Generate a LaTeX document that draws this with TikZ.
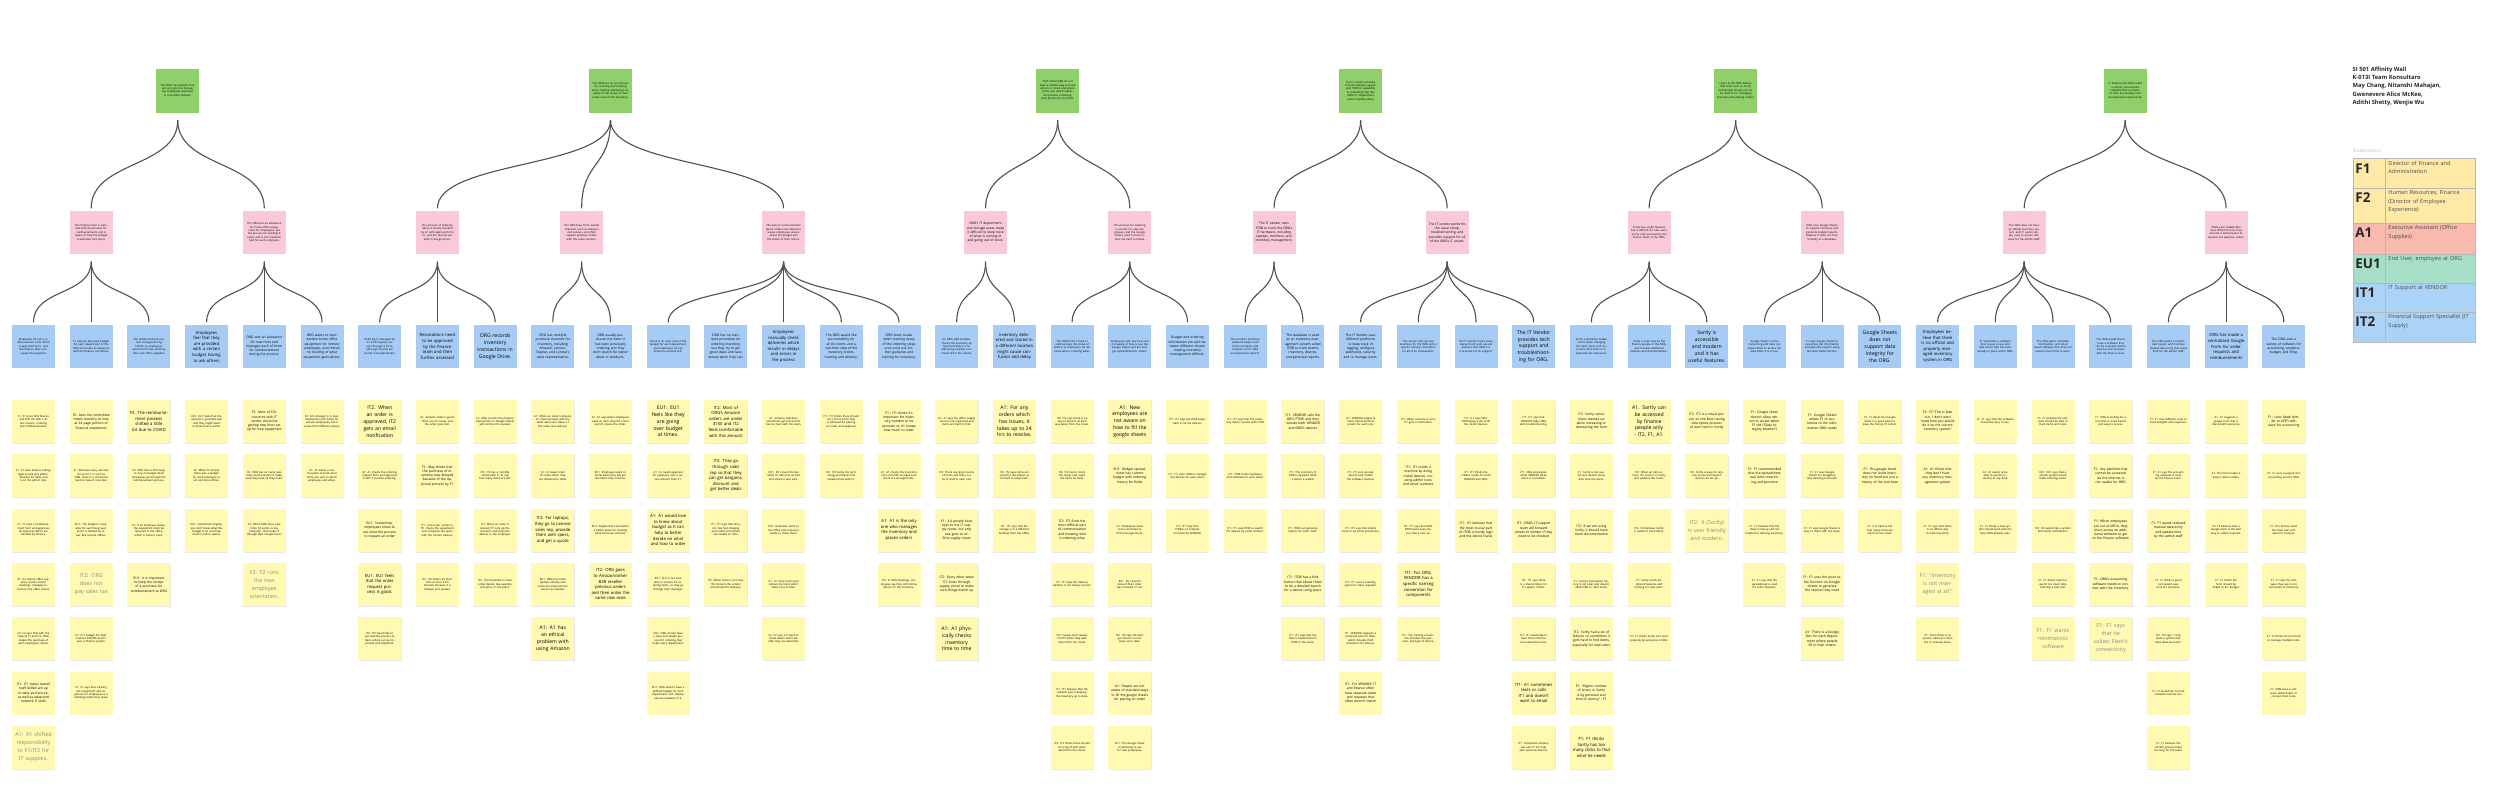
\documentclass[tikz,border=0pt]{standalone}
\usepackage{fontspec}
\setmainfont{Open Sans}
\usetikzlibrary{shadows}
\definecolor{stickyY}{HTML}{FFF9B1}
\definecolor{blueN}{HTML}{A6CCF5}
\definecolor{pinkN}{HTML}{F9C9DA}
\definecolor{greenN}{HTML}{8FD06A}
\definecolor{lineC}{HTML}{505050}
\definecolor{bigGray}{HTML}{8A8A8A}
\definecolor{legY}{HTML}{FFE9A6}
\definecolor{legR}{HTML}{F8B9AE}
\definecolor{legG}{HTML}{A7DEC8}
\definecolor{legB}{HTML}{ABD3F7}
\definecolor{legBorder}{HTML}{B8B8B8}
\newcommand\awNoHy{\hyphenpenalty10000\exhyphenpenalty10000\relax}
\newcommand\awS[4]{\node[sticky,#3] (s#1-#2) at ({33.5+57.7*#1},{421.5+54.3*#2}) {#4};}
\newcommand\awB[3]{\node[bluebox,#2] (b#1) at ({33.5+57.7*#1},346.5) {#3};}
\newcommand\awP[4]{\node[pinkbox,#3] (#1) at ({33.5+57.7*#2},232.5) {#4};}
\newcommand\awG[4]{\node[greenbox,#3] (#1) at ({33.5+57.7*#2},90.5) {#4};}
\newcommand\awGP[2]{\draw[branch] ([yshift=-7.5pt]#1.south) .. controls +(0,48) and +(0,-48) .. ([yshift=2.5pt]#2.north);}
\newcommand\awPB[2]{\draw[branch] ([yshift=-7.5pt]#1.south) .. controls +(0,34) and +(0,-34) .. ([yshift=2.5pt]#2.north);}
\tikzset{
 sticky/.style={rectangle, fill=stickyY, minimum width=43pt, minimum height=43pt, text width=38pt, inner sep=0pt, align=center, drop shadow={shadow xshift=0.3pt, shadow yshift=-0.9pt, opacity=0.18}},
 tinyt/.style={font=\fontsize{2.7}{3.4}\selectfont},
 smt/.style={font=\fontsize{3.3}{4.3}\selectfont},
 medt/.style={font=\fontsize{4.2}{5.6}\selectfont},
 lgt/.style={font=\fontsize{5.1}{6.8}\selectfont},
 bigt/.style={font=\fontsize{5.4}{8}\selectfont, text=bigGray},
 bluebox/.style={rectangle, fill=blueN, minimum width=43pt, minimum height=43pt, text width=38pt, inner sep=0pt, align=center},
 pinkbox/.style={rectangle, fill=pinkN, minimum width=43pt, minimum height=43pt, text width=38pt, inner sep=0pt, align=center},
 greenbox/.style={rectangle, fill=greenN, minimum width=43pt, minimum height=44pt, text width=38pt, inner sep=0pt, align=center},
 branch/.style={draw=lineC, line width=1.1pt},
 legcell/.style={rectangle, anchor=north west, minimum width=122.3pt, inner sep=0pt, draw=legBorder, line width=0.5pt},
 legkey/.style={anchor=north west, inner sep=0pt, font=\fontsize{13.5}{14}\selectfont\bfseries, text=black!85},
 legdesc/.style={anchor=north west, inner sep=0pt, align=left, text width=82pt, font=\fontsize{5.6}{8.2}\selectfont, execute at begin node=\awNoHy, text=black!70},
}
\begin{document}
\begin{tikzpicture}[x=1pt,y=-1pt]
\useasboundingbox (0,0) rectangle (2500,803);
\fill[white] (0,0) rectangle (2500,803);

% ---------------- green level ----------------
\awG{gA}{2.5}{tinyt}{The ORG has systems that are very good at managing employees' expenses in a prudent manner.}
\awG{gB}{10}{tinyt}{The ORG has no set process for ordering and tracking items, leaving employees unaware of the status of their orders and of the inventory.}
\awG{gC}{17.75}{tinyt}{Staff at the ORG do not have a reliable way to know what is in stock and where items are, which makes the process confusing, slow and prone to errors.}
\awG{gD}{23}{tinyt}{The IT vendor provides IT and hardware support and ITDB for capability in something that the ORG's IT department cannot handle alone.}
\awG{gE}{29.5}{tinyt}{Users at the ORG believe that tools such as Sortly and Google Sheets are not the best fit for managing inventory and placing orders.}
\awG{gF}{36.25}{tinyt}{F1 believes the ORG needs a simple, cloud based software that connects to their accounting tools and reduces manual work.}

% ---------------- pink level ----------------
\awP{pA}{1}{tinyt}{The finance team is satisfied with the process for reimbursements and is aware of how the budget is allocated and spent.}
\awP{pB}{4}{tinyt}{The ORG has an allowance for home office equipment for employees, but the process for tracking it varies and is not standardized for each employee.}
\awP{pC}{7}{tinyt}{The process of ordering items is mostly handled by A1 with approval from F1, and the records are kept in Google Drive.}
\awP{pD}{9.5}{tinyt}{The ORG buys from several channels, such as Amazon and Lenovo, and often repeats previous orders with the same vendors.}
\awP{pE}{13}{tinyt}{The lack of communication about orders and deliveries leaves employees unsure about the budget and the status of their orders.}
\awP{pF}{16.5}{smt}{ORG's IT department and storage areas make it difficult to keep track of what is coming in and going out of stock.}
\awP{pG}{19}{tinyt}{The process for ordering is unclear for new employees, and the Google Sheets used to track orders are hard to follow.}
\awP{pH}{21.5}{smt}{The IT vendor uses ITDB to track the ORG's IT hardware, including laptops, monitors, and inventory management.}
\awP{pI}{24.5}{smt}{The IT vendor performs the usual setup, troubleshooting, and provides support for all of the ORG's IT assets.}
\awP{pJ}{28}{tinyt}{Sortly has useful features but is difficult for new users and is only accessed by the finance team of the ORG.}
\awP{pK}{31}{tinyt}{ORG uses Google Sheets to support inventory and generate budget reports, however it lacks the functionality of a database.}
\awP{pL}{34.5}{tinyt}{The ORG does not have an official inventory system, and F1 wants simple, easy to access software for the admin staff.}
\awP{pM}{38}{tinyt}{While each stakeholder uses different tools, they all want a central place to request and approve orders.}

% ---------------- blue level ----------------
\awB{0}{tinyt}{Employees fill out a reimbursement form which is approved by F1, and the finance team processes the payment.}
\awB{1}{tinyt}{F1 uses an allocated budget for each department of the ORG and tracks its expenses with the finance committee.}
\awB{2}{tinyt}{The reimbursement process changed during COVID, as employees work from home and buy their own office supplies.}
\awB{3}{medt}{Employees feel that they are provided with a certain budget having to ask others}
\awB{4}{smt}{ORG sets an allowance for new hires and manages each of them for reimbursement during the process.}
\awB{5}{smt}{ORG wants to standardize home office equipment for remote employees, and there's no tracking of what equipment goes where.}
\awB{6}{tinyt}{Ordering is managed by A1 and requests are sent through a form, although records are stored in Google Sheets.}
\awB{7}{medt}{Renovations need to be approved by the finance team and then further assessed}
\awB{8}{lgt}{ORG records inventory transactions in Google Drive.}
\awB{9}{smt}{ORG has multiple purchase channels for inventory, including Amazon, Lenovo, Staples, and Lenovo's sales representative.}
\awB{10}{smt}{ORG usually purchases the items it has been previously ordering and they don't search for better deals or products.}
\awB{11}{tinyt}{There is no clear view of the budget for each department and employees do not know the amount left.}
\awB{12}{smt}{ORG has no standard procedure for ordering inventory, but they try to get good deals and save money when they can.}
\awB{13}{medt}{Employees manually check deliveries which results in delays and errors in the process}
\awB{14}{smt}{The ORG would like accountability for all the items and a real-time view of the inventory orders, tracking and delivery.}
\awB{15}{smt}{ORG faces issues when tracking many of the ordering steps and could use further guidance and training for inventory.}
\awB{16}{tinyt}{An ORG staff member checks the inventory by hand and there is no official log of what is removed from the closets.}
\awB{17}{medt}{Inventory delivered and stored in a different location might cause confusion and delay}
\awB{18}{tinyt}{The ORG finds it hard to communicate the status of orders, as employees do not know who is ordering what.}
\awB{19}{tinyt}{Employees and new hires are not aware of how to use the Google Sheets and the budget spreadsheet for orders.}
\awB{20}{smt}{Budget and ordering information are split between different sheets, making inventory management difficult.}
\awB{21}{tinyt}{The vendor's inventory database keeps track of the hardware and software of the ORG and generates reports.}
\awB{22}{smt}{The database is used as an inventory management system called ITDB to track events, inventory, devices, and generate reports.}
\awB{23}{smt}{The IT Vendor uses different platforms to keep track of logging, configure webhooks, security and to manage users.}
\awB{24}{tinyt}{The vendor sets up new machines for the ORG with a specific naming convention for all of its components.}
\awB{25}{tinyt}{The IT vendor tracks every device that it sets up and believes that ITDB is a crucial part of its support.}
\awB{26}{lgt}{The IT Vendor provides tech support and troubleshooting for ORG.}
\awB{27}{tinyt}{Sortly sometimes makes errors when changing the item count, and it is hard to find items in it, especially for new users.}
\awB{28}{tinyt}{Sortly is used only by the finance people of the ORG, and it needs additional features and documentation.}
\awB{29}{lgt}{Sortly is accessible and modern and it has useful features.}
\awB{30}{tinyt}{Google Sheets is time consuming and does not allow others to access the data when it is in use.}
\awB{31}{tinyt}{F1 uses Google Sheets to customize the information and generate reports using the pivot table function.}
\awB{32}{lgt}{Google Sheets does not support data integrity for the ORG.}
\awB{33}{medt}{Employees believe that there is no official and properly managed inventory system in ORG}
\awB{34}{tinyt}{F1 would like a software that is easy to use and that works with the tools already in place at the ORG.}
\awB{35}{tinyt}{The ORG wants a flexible, minimalistic, and cloud based software that does not require much time to learn.}
\awB{36}{tinyt}{The ORG would like to have a software that can be accessed via the internet and connects with the finance tools.}
\awB{37}{tinyt}{The ORG wants a centralized system with minimal manual data entry that saves time for the admin staff.}
\awB{38}{medt}{ORG has made a centralized Google Form for order requests and reimbursements}
\awB{39}{smt}{The ORG uses a variety of software for accounting, analytics, budget, and filing.}

% ---------------- connectors ----------------
\awGP{gA}{pA}\awGP{gA}{pB}
\awGP{gB}{pC}\awGP{gB}{pD}\awGP{gB}{pE}
\awGP{gC}{pF}\awGP{gC}{pG}
\awGP{gD}{pH}\awGP{gD}{pI}
\awGP{gE}{pJ}\awGP{gE}{pK}
\awGP{gF}{pL}\awGP{gF}{pM}
\awPB{pA}{b0}\awPB{pA}{b1}\awPB{pA}{b2}
\awPB{pB}{b3}\awPB{pB}{b4}\awPB{pB}{b5}
\awPB{pC}{b6}\awPB{pC}{b7}\awPB{pC}{b8}
\awPB{pD}{b9}\awPB{pD}{b10}
\awPB{pE}{b11}\awPB{pE}{b12}\awPB{pE}{b13}\awPB{pE}{b14}\awPB{pE}{b15}
\awPB{pF}{b16}\awPB{pF}{b17}
\awPB{pG}{b18}\awPB{pG}{b19}\awPB{pG}{b20}
\awPB{pH}{b21}\awPB{pH}{b22}
\awPB{pI}{b23}\awPB{pI}{b24}\awPB{pI}{b25}\awPB{pI}{b26}
\awPB{pJ}{b27}\awPB{pJ}{b28}\awPB{pJ}{b29}
\awPB{pK}{b30}\awPB{pK}{b31}\awPB{pK}{b32}
\awPB{pL}{b33}\awPB{pL}{b34}\awPB{pL}{b35}\awPB{pL}{b36}
\awPB{pM}{b37}\awPB{pM}{b38}\awPB{pM}{b39}

% ---------------- sticky notes ----------------
% col 0
\awS{0}{0}{tinyt}{F1: F1 does 50\% finance and 50\% HR with 5 direct reports, ordering and reimbursements.}
\awS{0}{1}{tinyt}{F1: F1 does finance, billing, legal, board and administration for ORG, and is on the admin side.}
\awS{0}{2}{tinyt}{F1: F1 uses a reimbursement form and approves all expenses which are handled by finance.}
\awS{0}{3}{tinyt}{A1: A1 orders office supplies, snacks, board meetings, manages inventory and office orders.}
\awS{0}{4}{tinyt}{F2: F2 says that with the help of F1 and IT2, ORG makes the purchase of each employee's needs.}
\awS{0}{5}{smt}{IT1: IT1 states overall staff skilled are up to date and secure, as well as advanced network IT skills}
\awS{0}{6}{bigt}{A1: A1 shifted responsibility to F1/IT2 for IT supplies.}
% col 1
\awS{1}{0}{smt}{F2: Asks the committee meets monthly to look at 24 page portion of financial statements}
\awS{1}{1}{tinyt}{F1: We have many services to record 1:1s such as ORG, there is a consistent need to have it recorded.}
\awS{1}{2}{tinyt}{EU1: The budget is available for each fiscal year, and it is divided by areas, like remote offices.}
\awS{1}{3}{bigt}{IT2: ORG does not pay sales tax}
\awS{1}{4}{tinyt}{F1: F1's budget for 2021 is about \$30,000 and F1 uses a finance system.}
\awS{1}{5}{tinyt}{F1: F1 says that tracking the equipment and expenses for employees is a challenge when they leave.}
% col 2
\awS{2}{0}{medt}{F2. The reimbursement process shifted a little bit due to COVID}
\awS{2}{1}{tinyt}{F2: ORG has to find ways to stay on budget while employees go through the reimbursement process.}
\awS{2}{2}{tinyt}{F2: If an employee leaves, the equipment must be returned to the office, which is hard to track.}
\awS{2}{3}{smt}{EU1: It is important to keep the receipt of a purchase for reimbursement at ORG}
% col 3
\awS{3}{0}{tinyt}{EU1: EU1 feels that the amount is provided well and they might need to know how it works.}
\awS{3}{1}{tinyt}{F2: When F2 joined, there was a budget for each employee to set up home offices.}
\awS{3}{2}{tinyt}{EU1: Sometimes employees don't know what the budget is for and how much is left to spend.}
% col 4
\awS{4}{0}{smt}{F2: Most of F2's concerns with IT vendor would be getting new hires set up for new equipment}
\awS{4}{1}{tinyt}{F2: ORG has so many new hires and F2 wants to make sure they have all they need.}
\awS{4}{2}{tinyt}{F2: When ORG hires new folks, F2 sends a new computer, then helps IT through their Google Form.}
\awS{4}{3}{bigt}{F2: F2 runs the new employee orientation.}
% col 5
\awS{5}{0}{tinyt}{F2: F2's strategy is to standardize the tech items for remote employees, but it varies from different places.}
\awS{5}{1}{tinyt}{A1: A1 wants a central place to track what items are sent to which employees and when.}
% col 6
\awS{6}{0}{lgt}{IT2. When an order is approved, IT2 gets an email notification}
\awS{6}{1}{tinyt}{A1: A1 checks the ordering request form and approves it with F1 before ordering.}
\awS{6}{2}{smt}{EU1: Sometimes, employees email to ask what the process to request an order}
\awS{6}{3}{medt}{EU1: EU1 feels that the order request process is good.}
\awS{6}{4}{tinyt}{IT2: IT2 would like to see how the process to track orders can be improved and simplified.}
% col 7
\awS{7}{0}{tinyt}{A1: Amazon order is good, there are no issues, and the order goes fast.}
\awS{7}{1}{smt}{F1: May thinks that the purchase of inventory was delayed because of the approval process by F1}
\awS{7}{2}{tinyt}{IT1: If an order comes in, IT1 checks the equipment and compares the specs with the current devices.}
\awS{7}{3}{tinyt}{IT2: IT2 orders 20 monitors at once from Amazon because it is cheaper and quicker.}
% col 8
\awS{8}{0}{tinyt}{F1: ORG records the Amazon transactions in Google Sheets with all the info needed.}
\awS{8}{1}{tinyt}{IT2: IT2 has a monthly review with F1 to see how many items are left.}
\awS{8}{2}{tinyt}{IT1: When an order is placed, IT1 sets up the accounts and ships the devices to the employee.}
\awS{8}{3}{tinyt}{IT2: IT2 would like to have order details, like quantity and price, in one place.}
% col 9
\awS{9}{0}{tinyt}{A1: When an order is placed, A1 communicates with the team about the status of the order and delivery.}
\awS{9}{1}{tinyt}{A1: A1 keeps track of orders when they are delivered to ORG.}
\awS{9}{2}{medt}{IT2: For laptops, they go to Lenovo sales rep, provide them with specs, and get a quote}
\awS{9}{3}{tinyt}{EU1: ORG has some laptops already and some are ordered from Lenovo as needed.}
\awS{9}{4}{lgt}{A1: A1 has an ethical problem with using Amazon}
% col 10
\awS{10}{0}{tinyt}{A1: A1 says when employees need an item, they fill a form and A1 places the order.}
\awS{10}{1}{tinyt}{EU1: Employees want to know when they will get the items they ordered.}
\awS{10}{2}{tinyt}{EU1: Maybe there should be a better place for tracking what has been ordered.}
\awS{10}{3}{medt}{IT2: ORG goes to Amazon/other B2B reseller previous orders and then order the same new ones}
% col 11
\awS{11}{0}{lgt}{EU1: EU1 feels like they are going over budget at times.}
\awS{11}{1}{tinyt}{A1: A1 needs approval for expenses over a certain amount from F1.}
\awS{11}{2}{medt}{A1: A1 would love to know about budget as it can help to better decide on what and how to order}
\awS{11}{3}{tinyt}{EU1: EU1 is not sure who to contact for ordering items, so they go through their manager.}
\awS{11}{4}{tinyt}{EU1: ORG should have a clear and simple process for ordering that helps every department.}
\awS{11}{5}{tinyt}{EU1: ORG doesn't have a defined budget for each department, and employees are unaware of it.}
% col 12
\awS{12}{0}{medt}{IT2: Most of ORG's Amazon orders are under \$150 and IT2 feels comfortable with this amount}
\awS{12}{1}{medt}{IT2: They go through sales rep so that they can get bargains, discount and get better deals}
\awS{12}{2}{tinyt}{IT1: IT1 says that Amazon has fast shipping and orders from there are usually on time.}
\awS{12}{3}{tinyt}{IT2: When there is an issue, IT2 contacts the vendor and checks the delivery.}
% col 13
\awS{13}{0}{tinyt}{A1: Amazon deliveries sometimes get lost and A1 has to check with the team.}
\awS{13}{1}{tinyt}{EU1: EU1 doesn't know when an item has arrived and where it was sent.}
\awS{13}{2}{tinyt}{EU1: Deliveries come to the office and someone needs to check them.}
\awS{13}{3}{tinyt}{A1: A1 must track each delivery by hand which takes a lot of time.}
\awS{13}{4}{tinyt}{F2: F2 says it is hard to know where items are after they are delivered.}
% col 14
\awS{14}{0}{tinyt}{IT1: IT1 thinks there should be a list of items that is followed for placing an order, and approval.}
\awS{14}{1}{tinyt}{IT2: IT2 tracks the technology purchases and reviews them with F1.}
% col 15
\awS{15}{0}{smt}{IT1: IT1 thinks it's important for inventory number to be accurate so A1 knows how much to order}
\awS{15}{1}{tinyt}{A1: A1 checks the inventory once a month to make sure there are enough items.}
\awS{15}{2}{medt}{A1: A1 is the only one who manages the inventory and places orders}
\awS{15}{3}{tinyt}{IT2: In ORG meetings, employees say they don't know what is in the inventory.}
% col 16
\awS{16}{0}{tinyt}{A1: A1 says the office supply room is not organized and items are hard to find.}
\awS{16}{1}{tinyt}{IT2: There are large closets of items and there is a lot of stuff in each one.}
\awS{16}{2}{smt}{F1: 3-4 people have keys to the IT supply closet, but only one goes to offline supply closet}
\awS{16}{3}{smt}{IT2: Every other week IT2 looks through supply closet to make sure things match up}
\awS{16}{4}{lgt}{A1: A1 physically checks inventory time to time}
% col 17
\awS{17}{0}{lgt}{A1: For any orders which has issues, it takes up to 24 hrs to resolve.}
\awS{17}{1}{tinyt}{IT2: IT2 says items are stored in two places so it's hard to keep track.}
\awS{17}{2}{tinyt}{IT1: IT1 says that the storage is in a different building from the office.}
% col 18
\awS{18}{0}{tinyt}{IT2: IT2 says there is no way to know if an item was taken from the closet.}
\awS{18}{1}{tinyt}{IT2: IT2 has to check the closet and count the items by hand.}
\awS{18}{2}{smt}{IT2: IT2 finds the most difficult part of communication and knowing who is ordering what}
\awS{18}{3}{tinyt}{IT1: IT1 says the delivery address is not always correct.}
\awS{18}{4}{tinyt}{IT2: People don't always tell IT2 when they take items from the closet.}
\awS{18}{5}{tinyt}{IT1: IT1 believes that the hardest part is keeping the inventory up to date.}
\awS{18}{6}{tinyt}{IT2: IT2 thinks there should be a log of who takes what from the closet.}
% col 19
\awS{19}{0}{lgt}{A1: New employees are not aware on how to fill the google sheets}
\awS{19}{1}{smt}{EU1: Budget spreadsheet has current budget with ordering history for fields}
\awS{19}{2}{tinyt}{A1: Employees need to be reminded to fill the Google Sheet.}
\awS{19}{3}{tinyt}{EU1: EU1 doesn't know if their order was received or not.}
\awS{19}{4}{tinyt}{IT2: IT2 says the budget sheet is not always up to date.}
\awS{19}{5}{smt}{A1: People are not aware of standard ways to fill the google sheets for placing an order}
\awS{19}{6}{tinyt}{EU1: The Google Sheet is confusing to use for new employees.}
% col 20
\awS{20}{0}{tinyt}{IT1: IT1 says the ITDB keeps track of all the devices.}
\awS{20}{1}{tinyt}{IT1: IT1 uses ITDB to manage the devices for each client.}
\awS{20}{2}{tinyt}{IT1: IT1 says that ITDB is an internal tool built by VENDOR.}
% col 21
\awS{21}{0}{tinyt}{IT1: IT1 says that the inventory data is synced with ITDB.}
\awS{21}{1}{tinyt}{IT1: ITDB tracks hardware and software for each client.}
\awS{21}{2}{tinyt}{IT1: IT1 uses ITDB to search for devices by serial number.}
% col 22
\awS{22}{0}{smt}{IT1: VENDOR calls the ORG `FTOR' and they include both VENDOR and ORG's devices}
\awS{22}{1}{tinyt}{IT1: The inventory of ITDB is updated when a device is added.}
\awS{22}{2}{tinyt}{IT1: ITDB can generate reports for each client.}
\awS{22}{3}{smt}{IT1: ITDB has a find button that allows them to do a detailed search for a device using specs}
\awS{22}{4}{tinyt}{IT1: IT1 says that the data is exported from ITDB to the client.}
% col 23
\awS{23}{0}{tinyt}{IT1: VENDOR supports many clients and has a team for each one.}
\awS{23}{1}{tinyt}{IT1: IT1 sets up new devices and installs the software needed.}
\awS{23}{2}{tinyt}{IT1: IT1 says that tickets come in via email and phone.}
\awS{23}{3}{tinyt}{IT1: IT1 uses a ticketing system to track requests.}
\awS{23}{4}{tinyt}{IT1: VENDOR supports a premium plan for ORG, which includes theft protection for devices.}
\awS{23}{5}{smt}{IT1: For VENDOR, IT and finance often have separate views and requests that often doesn't match}
% col 24
\awS{24}{0}{tinyt}{IT1: When a device is sent, IT1 gets a notification.}
\awS{24}{1}{smt}{IT1: IT1 builds a machine by doing install devices, creating admin tools and email numbers}
\awS{24}{2}{tinyt}{IT1: IT1 says that VENDOR tracks every device that it sets up.}
\awS{24}{3}{medt}{IT1: For ORG, VENDOR has a specific naming convention for components}
\awS{24}{4}{tinyt}{IT1: The naming convention includes the year, user, and type of device.}
% col 25
\awS{25}{0}{tinyt}{IT1: IT1 says VENDOR keeps a list of all the clients' devices.}
\awS{25}{1}{tinyt}{IT1: IT1 thinks the ITDB is useful for both VENDOR and ORG.}
\awS{25}{2}{smt}{IT1: IT1 believes that the most crucial part of ITDB is hardly legit and the device tracks}
% col 26
\awS{26}{0}{tinyt}{IT1: IT1 says that VENDOR helps ORG with troubleshooting.}
\awS{26}{1}{tinyt}{IT1: ORG employees email VENDOR when there is a problem.}
\awS{26}{2}{smt}{IT1: ORG's IT support team will forward emails to Vendor if they need to be checked}
\awS{26}{3}{tinyt}{IT1: IT1 says there is a shared inbox for IT support tickets.}
\awS{26}{4}{tinyt}{IT1: IT1 would like to have more information about the issue.}
\awS{26}{5}{medt}{IT1: A1 sometimes texts or calls IT1 and doesn't want to email}
\awS{26}{6}{tinyt}{IT1: Sometimes employees ask IT1 for help with personal devices.}
% col 27
\awS{27}{0}{smt}{IT2: Sortly sometimes messes up while increasing or decreasing the item}
\awS{27}{1}{tinyt}{F1: Sortly is not useful as it doesn't show who took the items.}
\awS{27}{2}{smt}{IT2: If we are using Sortly, it should have more documentation}
\awS{27}{3}{tinyt}{F1: Sortly's transaction history is not clear and doesn't allow ORG to track items.}
\awS{27}{4}{smt}{IT2: Sortly had a lot of failures so sometimes it gets hard to find items, especially for new users}
\awS{27}{5}{smt}{F1: ``Higher number of errors in Sortly is by personal and kind of clumsy'' - F1}
\awS{27}{6}{medt}{F1: F1 thinks Sortly has too many clicks to find what he needs}
% col 28
\awS{28}{0}{lgt}{A1. Sortly can be accessed by finance people only - IT2, F1, A1.}
\awS{28}{1}{tinyt}{IT2: When an item arrives, IT2 scans it in Sortly and updates the count.}
\awS{28}{2}{tinyt}{IT2: IT2 believes Sortly is useful to track items.}
\awS{28}{3}{tinyt}{F1: Sortly needs additional features and training for new users.}
\awS{28}{4}{tinyt}{F1: F1 thinks Sortly isn't used properly by everyone in ORG.}
% col 29
\awS{29}{0}{smt}{IT2: IT2 is a visual person so she likes having descriptive pictures of each item in Sortly}
\awS{29}{1}{tinyt}{IT2: Sortly is easy for anyone to use and doesn't need to be set up.}
\awS{29}{2}{bigt}{IT2: It (Sortly) is user friendly and modern.}
% col 30
\awS{30}{0}{smt}{F1: Google sheet doesn't allow others to access when F1 did (``Data Integrity Matters'')}
\awS{30}{1}{smt}{F1: F1 recommended that the spreadsheet was time consuming and perverse}
\awS{30}{2}{tinyt}{F1: F1 believes that the sheet is messy and not helpful for tracking inventory.}
\awS{30}{3}{tinyt}{F1: F1 says that the spreadsheet is used for order requests.}
% col 31
\awS{31}{0}{smt}{F1: Google Sheets allows F1 to customize to the information ORG needs}
\awS{31}{1}{tinyt}{F1: F1 uses Google Sheets for budgeting and tracking purchases.}
\awS{31}{2}{tinyt}{F1: F1 says Google Sheets is easy to share with the team.}
\awS{31}{3}{smt}{F1: F1 uses the pivot table function on Google sheets to generate the reports they need}
\awS{31}{4}{smt}{A1: There is a Google Doc for each department where people fill in their orders}
% col 32
\awS{32}{0}{tinyt}{F1: F1 thinks the Google Sheet is a good place to keep the history of orders.}
\awS{32}{1}{smt}{F1: The google sheet does not show inventory on hand but just a history of the purchase}
\awS{32}{2}{tinyt}{F1: It is hard to tell how many items are left from the sheet.}
% col 33
\awS{33}{0}{smt}{F2: F2 ``This is fake out. I don't even know how you would do it by the current inventory system''}
\awS{33}{1}{smt}{A1: A1 thinks that they don't have any inventory management system}
\awS{33}{2}{tinyt}{F1: F1 says that there is no official way to track inventory.}
\awS{33}{3}{bigt}{F1: ``Inventory is not managed at all.''}
\awS{33}{4}{tinyt}{IT1: Since there is no system, items are often lost or ordered twice.}
% col 34
\awS{34}{0}{tinyt}{F1: F1 says that the software should be easy to use.}
\awS{34}{1}{tinyt}{A1: A1 wants to be able to see the inventory at any time.}
\awS{34}{2}{tinyt}{F1: F1 thinks a new system should work with the tools ORG already uses.}
% col 35
\awS{35}{0}{tinyt}{F1: F1 believes the software should be able to track items and costs.}
\awS{35}{1}{tinyt}{EU1: EU1 says that a simple system would make ordering easier.}
\awS{35}{2}{tinyt}{IT2: IT2 would like a system that sends notifications.}
\awS{35}{3}{tinyt}{F1: F1 doesn't want to spend too much time learning a new tool.}
\awS{35}{4}{bigt}{F1: F1 wants minimalistic software}
% col 36
\awS{36}{0}{tinyt}{F1: ORG is looking for a tool that is cloud based and easy to access.}
\awS{36}{1}{smt}{F1: Any platform that cannot be accessed via the internet is not usable for ORG}
\awS{36}{2}{smt}{F1: When employees are out of office, they must access an additional software to get to the finance software}
\awS{36}{3}{smt}{F1: ORG's accounting software needs to connect with the inventory.}
\awS{36}{4}{bigt}{F1: F1 says that he values Slack's connectivity}
% col 37
\awS{37}{0}{tinyt}{F1: F1 uses different tools to track budgets and expenses.}
\awS{37}{1}{tinyt}{F1: F1 says the accounting software is used by the finance team.}
\awS{37}{2}{smt}{F1: F1 wants reduced manual data entry and update time by the admin staff}
\awS{37}{3}{tinyt}{F1: F1 thinks a good tool would save time for everyone.}
\awS{37}{4}{tinyt}{IT2: IT2 says ``I only want a system that does what we need.''}
\awS{37}{5}{tinyt}{F1: F1 would like to track software licenses too.}
\awS{37}{6}{tinyt}{F1: F1 believes the current process takes too long for the team.}
% col 38
\awS{38}{0}{tinyt}{A1: A1 suggests a google form that is shared with everyone.}
\awS{38}{1}{tinyt}{A1: The form makes it easy to place orders.}
\awS{38}{2}{tinyt}{F2: F2 believes that a Google Form is the best way to collect requests.}
\awS{38}{3}{tinyt}{F1: F1 thinks the form should be linked to the budget.}
% col 39
\awS{39}{0}{smt}{F1: Uses Abde (similar to ADP) software for accounting}
\awS{39}{1}{tinyt}{F1: F1 uses a payroll and accounting tool for ORG.}
\awS{39}{2}{tinyt}{F1: The finance team has their own software for invoices.}
\awS{39}{3}{tinyt}{F1: F1 says the software they use is not connected to inventory.}
\awS{39}{4}{tinyt}{F1: F1 thinks it's too much to manage multiple tools.}
\awS{39}{5}{tinyt}{F1: ORG uses a software called Zapier to connect their tools.}

% ---------------- header and legend ----------------
\node[anchor=north west, inner sep=0pt, align=left, font=\fontsize{5.8}{8.35}\selectfont\bfseries, text=black!85] (hdr) at (2352.5,66.5) {SI 501 Affinity Wall\\K-013I Team Konsultaro\\May Chang, Nitanshi Mahajan,\\Gwenevere Alice McKee,\\Adithi Shetty, Wenjie Wu};
\node[anchor=west, inner sep=0pt, font=\fontsize{4.6}{5}\selectfont, text=black!25] (stk) at (2352.7,150.5) {Stakeholders};

\node[legcell, fill=legY, minimum height=29.7pt] (rF1) at (2352.7,158.3) {};
\node[legcell, fill=legY, minimum height=35pt] (rF2) at (2352.7,188) {};
\node[legcell, fill=legR, minimum height=31pt] (rA1) at (2352.7,223) {};
\node[legcell, fill=legG, minimum height=29pt] (rEU1) at (2352.7,254) {};
\node[legcell, fill=legB, minimum height=29pt] (rIT1) at (2352.7,283) {};
\node[legcell, fill=legB, minimum height=30.3pt] (rIT2) at (2352.7,312) {};
\draw[legBorder, line width=0.5pt] (rF1.north west) ++(33,0) coordinate (dv1) (rIT2.south west) ++(33,0) coordinate (dv2);
\draw[legBorder, line width=0.5pt] (dv1) -- (dv2);

\node[legkey] (kF1) at ([xshift=2.5pt,yshift=-5pt]rF1.north west) {F1};
\node[legkey] (kF2) at ([xshift=2.5pt,yshift=-5pt]rF2.north west) {F2};
\node[legkey] (kA1) at ([xshift=2.5pt,yshift=-5pt]rA1.north west) {A1};
\node[legkey] (kEU1) at ([xshift=2.5pt,yshift=-5pt]rEU1.north west) {EU1};
\node[legkey] (kIT1) at ([xshift=2.5pt,yshift=-5pt]rIT1.north west) {IT1};
\node[legkey] (kIT2) at ([xshift=2.5pt,yshift=-5pt]rIT2.north west) {IT2};

\node[legdesc] (dF1) at ([xshift=35.5pt,yshift=-2.5pt]rF1.north west) {Director of Finance and Administration};
\node[legdesc] (dF2) at ([xshift=35.5pt,yshift=-2.5pt]rF2.north west) {Human Resources, Finance (Director of Employee Experience)};
\node[legdesc] (dA1) at ([xshift=35.5pt,yshift=-2.5pt]rA1.north west) {Executive Assistant (Office Supplies)};
\node[legdesc] (dEU1) at ([xshift=35.5pt,yshift=-2.5pt]rEU1.north west) {End User, employee at ORG};
\node[legdesc] (dIT1) at ([xshift=35.5pt,yshift=-2.5pt]rIT1.north west) {IT Support at VENDOR};
\node[legdesc] (dIT2) at ([xshift=35.5pt,yshift=-2.5pt]rIT2.north west) {Financial Support Specialist (IT Supply)};
\end{tikzpicture}
\end{document}
